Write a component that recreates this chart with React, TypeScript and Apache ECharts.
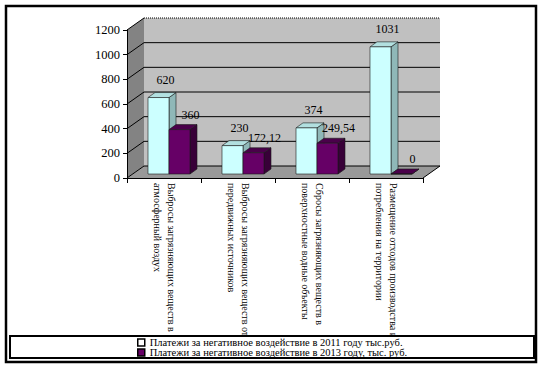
import React, { useEffect, useRef } from "react";
import * as echarts from "echarts";

const categories = [
  "Выбросы загрязняющих веществ в атмосферный воздух",
  "Выбросы загрязняющих веществ от передвижных источников",
  "Сбросы загрязняющих веществ в поверхностные водные объекты",
  "Размещение отходов производства и потребления на территории",
];
const series2011Name = "Платежи за негативное воздействие в 2011 году тыс.руб.";
const series2013Name = "Платежи за негативное воздействие в 2013 году, тыс. руб.";
const values2011 = [620, 230, 374, 1031];
const values2013 = [360, 172.12, 249.54, 0];
const yTicks = [0, 200, 400, 600, 800, 1000, 1200];

const SERIF = "'Liberation Serif', 'Times New Roman', serif";

function wrapWords(s: string, max: number): string {
  const words = s.split(" ");
  const lines: string[] = [];
  let cur = "";
  words.forEach((w) => {
    if (cur && (cur + " " + w).length > max) {
      lines.push(cur);
      cur = w;
    } else {
      cur = cur ? cur + " " + w : w;
    }
  });
  if (cur) lines.push(cur);
  return lines.join("\n");
}

function makeBarRenderer(
  side: "left" | "right",
  front: string,
  top: string,
  sideCol: string,
  labelDx: number,
  labelDy: number
) {
  return (params: any, api: any) => {
    const i = api.value(0);
    const v = api.value(1);
    const base = api.coord([i, 0]);
    const tp = api.coord([i, v]);
    const bw = 21;
    const dx = 7;
    const dy = -5;
    const x0 = side === "left" ? base[0] + 5 - bw : base[0] + 5;
    const yb = base[1] - 4;
    const yt = tp[1] - 4;
    const stroke = "#1a1a1a";
    const label = String(v).replace(".", ",");
    return {
      type: "group",
      children: [
        {
          type: "polygon",
          shape: { points: [[x0 + bw, yt], [x0 + bw + dx, yt + dy], [x0 + bw + dx, yb + dy], [x0 + bw, yb]] },
          style: { fill: sideCol, stroke, lineWidth: 0.6 },
        },
        {
          type: "polygon",
          shape: { points: [[x0, yt], [x0 + dx, yt + dy], [x0 + bw + dx, yt + dy], [x0 + bw, yt]] },
          style: { fill: top, stroke, lineWidth: 0.6 },
        },
        {
          type: "rect",
          shape: { x: x0, y: yt, width: bw, height: Math.max(0, yb - yt) },
          style: { fill: front, stroke, lineWidth: 0.6 },
        },
        {
          type: "text",
          x: x0 + bw / 2 + labelDx,
          y: yt + labelDy,
          style: {
            text: label,
            fill: "#000",
            fontSize: 12,
            fontFamily: SERIF,
            align: "center",
            verticalAlign: "middle",
            textAlign: "center",
            textVerticalAlign: "middle",
          },
        },
      ],
    };
  };
}

function renderWalls(params: any, api: any) {
  const cs = params.coordSys;
  const x0 = cs.x;
  const x1 = cs.x + cs.width;
  const yTop = cs.y;
  const yBot = cs.y + cs.height;
  const DX = 17;
  const DY = -12;
  const children: any[] = [
    {
      type: "polygon",
      shape: { points: [[x0 + DX, yTop + DY], [x1 + DX, yTop + DY], [x1 + DX, yBot + DY], [x0 + DX, yBot + DY]] },
      style: { fill: "#c0c0c0" },
    },
    {
      type: "polygon",
      shape: { points: [[x0, yBot], [x0, yTop], [x0 + DX, yTop + DY], [x0 + DX, yBot + DY]] },
      style: { fill: "#838383" },
    },
    {
      type: "polygon",
      shape: { points: [[x0, yBot], [x1, yBot], [x1 + DX, yBot + DY], [x0 + DX, yBot + DY]] },
      style: { fill: "#999999" },
    },
  ];
  yTicks.forEach((t) => {
    const y = api.coord([0, t])[1];
    children.push({
      type: "line",
      shape: { x1: x0 + DX, y1: y + DY, x2: x1 + DX, y2: y + DY },
      style: { stroke: "#000", lineWidth: 1, lineDash: t === 1200 ? [1, 1] : null },
    });
    children.push({
      type: "line",
      shape: { x1: x0, y1: y, x2: x0 + DX, y2: y + DY },
      style: { stroke: "#000", lineWidth: 1 },
    });
  });
  children.push({
    type: "line",
    shape: { x1: x1, y1: yBot, x2: x1 + DX, y2: yBot + DY },
    style: { stroke: "#000", lineWidth: 1 },
  });
  return { type: "group", children };
}

export default function App() {
  const ref = useRef<HTMLDivElement>(null);
  useEffect(() => {
    document.body.style.margin = "0";
    if (!ref.current) return;
    const chart = echarts.init(ref.current, null, { renderer: "svg" });
    chart.setOption({
      animation: false,
      backgroundColor: "#ffffff",
      grid: { left: 127, top: 30, width: 296, height: 148 },
      xAxis: {
        type: "category",
        data: categories,
        z: 3,
        axisLine: { show: true, lineStyle: { color: "#000", width: 1 } },
        axisTick: { show: true, length: 5, lineStyle: { color: "#000" } },
        axisLabel: {
          rotate: -90,
          margin: 5,
          interval: 0,
          color: "#000",
          fontSize: 10,
          lineHeight: 14,
          fontFamily: SERIF,
          formatter: (s: string) => wrapWords(s, 33),
        },
      },
      yAxis: {
        type: "value",
        min: 0,
        max: 1200,
        interval: 200,
        z: 3,
        axisLine: { show: true, lineStyle: { color: "#000", width: 1 } },
        axisTick: { show: true, length: 4, lineStyle: { color: "#000" } },
        splitLine: { show: false },
        axisLabel: {
          color: "#000",
          fontSize: 12.5,
          fontFamily: SERIF,
          margin: 7,
          formatter: (v: number) => String(v),
        },
      },
      legend: {
        data: [series2011Name, series2013Name],
        orient: "vertical",
        left: 137,
        top: 337,
        padding: 0,
        itemGap: -1,
        itemWidth: 7,
        itemHeight: 7,
        icon: "rect",
        z: 200,
        textStyle: { color: "#000", fontSize: 10.5, fontFamily: SERIF, lineHeight: 10 },
        itemStyle: { borderColor: "#000", borderWidth: 1.5 },
      },
      graphic: [
        {
          type: "rect",
          z: 100,
          shape: { x: 10, y: 336, width: 524, height: 22 },
          style: { fill: "#fff", stroke: "#000", lineWidth: 2 },
        },
        {
          type: "rect",
          z: 100,
          shape: { x: 6, y: 6, width: 530, height: 356 },
          style: { fill: "none", stroke: "#000", lineWidth: 2.5 },
        },
      ],
      series: [
        {
          type: "custom",
          name: "walls",
          z: 1,
          silent: true,
          renderItem: renderWalls,
          data: [[0, 0]],
          encode: { x: 0, y: 1 },
        },
        {
          type: "custom",
          name: series2011Name,
          z: 2,
          renderItem: makeBarRenderer("left", "#ccffff", "#b2e0e0", "#8fb8b8", 7, -18),
          itemStyle: { color: "#ffffff", borderColor: "#000" },
          data: values2011.map((v, i) => [i, v]),
          encode: { x: 0, y: 1 },
        },
        {
          type: "custom",
          name: series2013Name,
          z: 2,
          renderItem: makeBarRenderer("right", "#660066", "#4a004a", "#380038", 11, -15),
          itemStyle: { color: "#660066", borderColor: "#000" },
          data: values2013.map((v, i) => [i, v]),
          encode: { x: 0, y: 1 },
        },
      ],
    });
    return () => chart.dispose();
  }, []);
  return <div ref={ref} style={{ width: 540, height: 367 }} />;
}
